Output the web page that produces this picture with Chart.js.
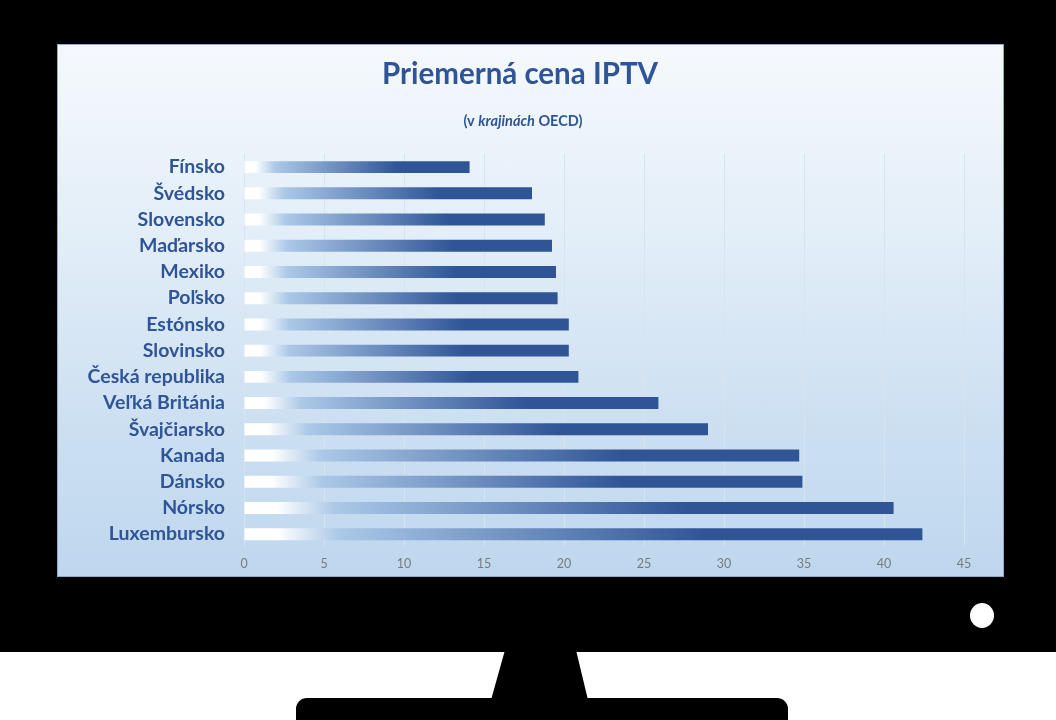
<!DOCTYPE html>
<html>
<head>
<meta charset="utf-8">
<script src="https://cdn.jsdelivr.net/npm/chart.js@4"></script>
<style>
  html, body { margin: 0; padding: 0; background: #ffffff; }
  body { width: 1056px; height: 720px; position: relative; overflow: hidden; font-family: Lato, sans-serif; }
  #tv { position: absolute; left: 0; top: 0; width: 1056px; height: 652px; background: #000; }
  #neck { position: absolute; left: 0; top: 0; width: 1056px; height: 720px; }
  #base { position: absolute; left: 296px; top: 698px; width: 492px; height: 22px; background: #000; border-radius: 11px 11px 0 0 / 11px 11px 0 0; }
  #led { position: absolute; left: 970px; top: 603px; width: 24px; height: 25px; border-radius: 50%; background: #fff; }
  #screen {
    position: absolute; left: 57px; top: 44px; width: 945px; height: 531px;
    border: 1px solid #8faacb;
    background: linear-gradient(to bottom, #f5f9fd 0%, #e3eef8 35%, #cde0f2 70%, #bed7ee 100%);
  }
  #wrap { position: absolute; left: 0; top: 0; width: 924px; height: 533px; }
</style>
</head>
<body>
<div id="tv"></div>
<svg id="neck" width="1056" height="720"><polygon points="505,650 576,650 588,700 491,700" fill="#000"/></svg>
<div id="base"></div>
<div id="led"></div>
<div id="screen">
  <div id="wrap"><canvas id="chart"></canvas></div>
</div>
<script>
// krajiny (odhad z obrazka)
const krajiny = ['Fínsko', 'Švédsko', 'Slovensko', 'Maďarsko', 'Mexiko', 'Poľsko', 'Estónsko', 'Slovinsko',
  'Česká republika', 'Veľká Británia', 'Švajčiarsko', 'Kanada', 'Dánsko', 'Nórsko', 'Luxembursko'];
const ceny = [14.1, 18.0, 18.8, 19.25, 19.5, 19.6, 20.3, 20.3, 20.9, 25.9, 29.0, 34.7, 34.9, 40.6, 42.4];
const osX = [0, 5, 10, 15, 20, 25, 30, 35, 40, 45];
const nadpis = 'Priemerná cena IPTV';
const podnadpis = ['(v ', 'krajinách', ' OECD)'];

const modra = '#2f5597';

function barGradient(c) {
  const chart = c.chart;
  const xs = chart.scales && chart.scales.x;
  if (!xs || !chart.chartArea || c.dataIndex === undefined) return modra;
  const x0 = xs.getPixelForValue(0);
  const x1 = xs.getPixelForValue(ceny[c.dataIndex]);
  const g = chart.ctx.createLinearGradient(x0, 0, x1, 0);
  g.addColorStop(0, '#ffffff');
  g.addColorStop(0.05, '#ffffff');
  g.addColorStop(0.14, '#abc8e7');
  g.addColorStop(0.68, modra);
  g.addColorStop(1, modra);
  return g;
}

// nadpis + podnadpis s kurzivou
const titulky = {
  id: 'titulky',
  afterDraw(chart) {
    const ctx = chart.ctx;
    const cx = chart.width / 2;
    ctx.save();
    ctx.fillStyle = '#2f5597';
    ctx.textBaseline = 'alphabetic';
    ctx.textAlign = 'center';
    ctx.font = 'bold 29.5px Lato';
    ctx.fillText(nadpis, cx, 39);

    const fonts = ['bold 14.5px Lato', 'italic bold 14.5px Lato', 'bold 14.5px Lato'];
    let total = 0;
    const widths = podnadpis.map((t, i) => { ctx.font = fonts[i]; const w = ctx.measureText(t).width; total += w; return w; });
    let x = cx + 3 - total / 2;
    ctx.textAlign = 'left';
    podnadpis.forEach((t, i) => {
      ctx.font = fonts[i];
      ctx.fillText(t, x, 81);
      x += widths[i];
    });
    ctx.restore();
  }
};

new Chart(document.getElementById('chart'), {
  type: 'bar',
  data: {
    labels: krajiny,
    datasets: [{
      data: ceny,
      backgroundColor: barGradient,
      borderWidth: 0,
      barPercentage: 0.5,
      categoryPercentage: 0.91
    }]
  },
  plugins: [titulky],
  options: {
    indexAxis: 'y',
    responsive: true,
    maintainAspectRatio: false,
    animation: false,
    layout: { padding: { top: 109, right: 18, bottom: 0, left: 0 } },
    plugins: {
      legend: { display: false },
      tooltip: { enabled: false },
      title: { display: false }
    },
    scales: {
      x: {
        min: 0,
        max: 45,
        afterFit(s) { s.height = 27; },
        afterBuildTicks(s) { s.ticks = osX.map(v => ({ value: v })); },
        grid: { color: '#d9e3ee', lineWidth: 1, drawTicks: false },
        border: { display: false },
        ticks: { color: '#7a7a7a', padding: 9, font: { family: 'Lato', size: 12.5 } }
      },
      y: {
        afterFit(s) { s.width = 186; },
        grid: { display: false, drawTicks: false },
        border: { display: false },
        ticks: { color: '#2f5597', padding: 19, font: { family: 'Lato', size: 19.5, weight: 'bold' } }
      }
    }
  }
});
</script>
</body>
</html>
